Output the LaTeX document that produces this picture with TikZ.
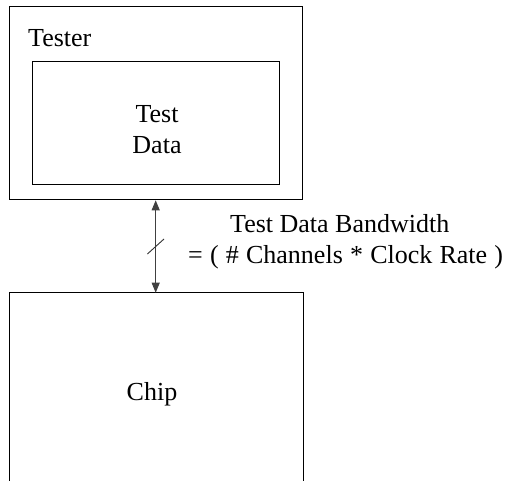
\documentclass[tikz,border=0pt]{standalone}
\usepackage{fontspec}
\setmainfont{Liberation Serif}
\usetikzlibrary{arrows.meta,calc}

\tikzset{
  box/.style={draw=black, line width=1pt, rectangle, inner sep=0pt, anchor=north west},
  frame/.style={rectangle, inner sep=0pt, anchor=north west},
  txt/.style={inner sep=0pt, font=\fontsize{26}{31}\selectfont},
  link/.style={line width=1pt, draw=black!75, {Triangle[length=10pt,width=8pt]}-{Triangle[length=10pt,width=8pt]}},
  tick/.style={line width=0.9pt, draw=black!80}
}

\begin{document}
\begin{tikzpicture}[x=1pt, y=-1pt]
  \useasboundingbox (0,0) rectangle (507,481);

  % tester with its test data store
  \node[box, minimum width=293.8pt, minimum height=193pt] (tester) at (8.5,6.3) {};
  \node[txt, anchor=base west] (testerlabel) at (28,46.7) {Tester};
  \node[box, minimum width=246.7pt, minimum height=123.3pt] (data) at (32.3,61) {};
  \node[txt, anchor=base] (datalabel) at (157,123)
    {\begin{tabular}[t]{@{}c@{}}Test\\Data\end{tabular}};

  % chip under test, open at the lower edge
  \node[frame, minimum width=293.4pt, minimum height=190pt] (chip) at (9.3,292.7) {};
  \draw[line width=1pt] (chip.south west) |- (chip.north east) -- (chip.south east);
  \node[txt, anchor=base] (chiplabel) at (152,400.7) {Chip};

  % test data link between tester and chip
  \coordinate (ax) at (155.7,0);
  \draw[link] (tester.south -| ax) -- (chip.north -| ax)
    coordinate[pos=0.5] (mid);
  \draw[tick] ($(mid)+(-8.3,7.5)$) -- ($(mid)+(8.3,-7.5)$);

  \node[txt, anchor=base west] (bw) at (188,233)
    {\begin{tabular}[t]{@{}l@{}}\hspace*{42pt}Test Data Bandwidth\\
     \spaceskip=7.2pt= ( \# Channels * Clock Rate )\end{tabular}};
\end{tikzpicture}
\end{document}
